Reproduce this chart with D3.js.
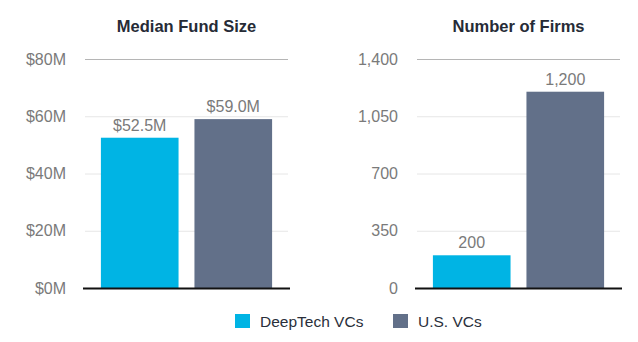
<!DOCTYPE html>
<html>
<head>
<meta charset="utf-8">
<script src="https://cdn.jsdelivr.net/npm/d3@7"></script>
<style>
  body { margin: 0; background: #fff; }
  svg { display: block; font-family: "Helvetica Neue", Helvetica, "Liberation Sans", Arial, sans-serif; }
</style>
</head>
<body>
<script>
var groups = ['DeepTech VCs', 'U.S. VCs'];
var colors = ['#00b4e4', '#627089'];

var fundSize = [52.5, 59.0];
var fundTicks = [0, 20, 40, 60, 80];

var firmCount = [200, 1200];
var firmTicks = [0, 350, 700, 1050, 1400];

var svg = d3.select('body').append('svg')
  .attr('width', 638)
  .attr('height', 342);

// one small bar panel: title, grid, axis labels, bars, value labels
function drawPanel(opts) {
  var g = svg.append('g').attr('transform', 'translate(' + opts.left + ',0)');
  var w = 203, top = 59, bottom = 288;

  var x = d3.scaleBand().domain(groups).range([0, w])
    .paddingInner(0.17).paddingOuter(0.17);
  var y = d3.scaleLinear().domain([0, d3.max(opts.ticks)]).range([bottom, top]);

  g.append('text')
    .attr('x', w / 2)
    .attr('y', 32)
    .attr('text-anchor', 'middle')
    .style('font-size', '16.5px')
    .style('font-weight', 'bold')
    .style('fill', '#262b36')
    .text(opts.title);

  var axis = g.append('g')
    .call(d3.axisLeft(y).tickValues(opts.ticks).tickSize(-w).tickFormat(opts.fmt).tickPadding(19));
  axis.select('.domain').remove();
  axis.selectAll('.tick line')
    .style('stroke', function (d, i) { return i === opts.ticks.length - 1 ? '#b5b5b5' : '#e6e6e6'; });
  axis.selectAll('.tick text')
    .style('font-size', '16px')
    .style('fill', '#7a7a7a')
    .style('font-family', 'inherit');

  var vals = opts.values;
  g.selectAll('rect.bar').data(vals).enter().append('rect')
    .attr('class', 'bar')
    .attr('x', function (d, i) { return x(groups[i]); })
    .attr('y', function (d) { return y(d); })
    .attr('width', x.bandwidth())
    .attr('height', function (d) { return bottom - y(d); })
    .style('fill', function (d, i) { return colors[i]; });

  g.selectAll('text.val').data(vals).enter().append('text')
    .attr('class', 'val')
    .attr('x', function (d, i) { return x(groups[i]) + x.bandwidth() / 2; })
    .attr('y', function (d) { return y(d) - 7; })
    .attr('text-anchor', 'middle')
    .style('font-size', '16px')
    .style('fill', '#7a7a7a')
    .text(opts.valFmt);

  g.append('line')
    .attr('x1', -2).attr('x2', w + 2)
    .attr('y1', bottom + 0.5).attr('y2', bottom + 0.5)
    .style('stroke', '#111')
    .style('stroke-width', 2);
}

drawPanel({
  left: 85,
  title: 'Median Fund Size',
  values: fundSize,
  ticks: fundTicks,
  fmt: function (d) { return '$' + d + 'M'; },
  valFmt: function (d) { return '$' + d.toFixed(1) + 'M'; }
});

drawPanel({
  left: 417,
  title: 'Number of Firms',
  values: firmCount,
  ticks: firmTicks,
  fmt: d3.format(','),
  valFmt: d3.format(',')
});

// legend
var legend = svg.append('g').attr('transform', 'translate(235,314)');
var item = legend.selectAll('g').data(groups).enter().append('g')
  .attr('transform', function (d, i) { return 'translate(' + (i * 158) + ',0)'; });
item.append('rect')
  .attr('width', 15).attr('height', 14)
  .style('fill', function (d, i) { return colors[i]; });
item.append('text')
  .attr('x', 25).attr('y', 13)
  .style('font-size', '15.5px')
  .style('fill', '#2a2f3a')
  .text(function (d) { return d; });
</script>
</body>
</html>
